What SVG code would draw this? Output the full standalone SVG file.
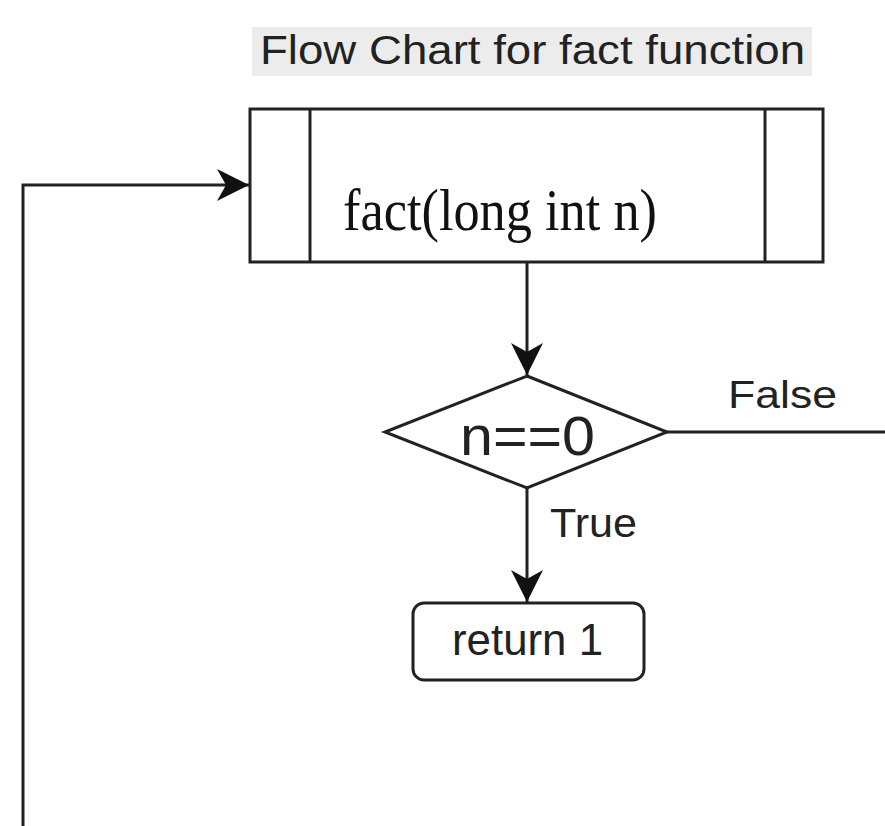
<svg xmlns="http://www.w3.org/2000/svg" width="885" height="826" viewBox="0 0 885 826">
  <style>
    .shape { fill: #ffffff; stroke: #222222; stroke-width: 3; }
    .edge { fill: none; stroke: #222222; stroke-width: 3; }
    .sans { font-family: "Liberation Sans", Arial, sans-serif; fill: #222222; }
    .serif { font-family: "Liberation Serif", "Times New Roman", serif; fill: #111111; }
  </style>
  <defs>
    <marker id="arrow" markerUnits="userSpaceOnUse" markerWidth="36" markerHeight="36" viewBox="-34 -18 36 36" refX="0" refY="0" orient="auto">
      <path d="M0,0 L-32,-16 L-23,0 L-32,16 Z" fill="#111111"/>
    </marker>
  </defs>
  <rect width="885" height="826" fill="#ffffff"/>

  <!-- title -->
  <g id="title">
    <rect x="252" y="27" width="560" height="49" fill="#ececec"/>
    <text class="sans" x="260" y="64" font-size="40" textLength="545" lengthAdjust="spacingAndGlyphs">Flow Chart for fact function</text>
  </g>

  <!-- connectors -->
  <g id="connectors">
    <path class="edge" d="M527,262 L527,375" marker-end="url(#arrow)"/>
    <path class="edge" d="M527,488 L527,602" marker-end="url(#arrow)"/>
    <path class="edge" d="M667,432 L885,432"/>
    <path class="edge" d="M23,826 L23,185 L249,185" marker-end="url(#arrow)"/>
    <text class="sans" x="728" y="408" font-size="38" textLength="109" lengthAdjust="spacingAndGlyphs">False</text>
    <text class="sans" x="550" y="537" font-size="40" textLength="87" lengthAdjust="spacingAndGlyphs">True</text>
  </g>

  <!-- predefined process: fact(long int n) -->
  <g id="fact">
    <rect class="shape" x="250" y="109" width="573" height="153"/>
    <line class="edge" x1="310" y1="109" x2="310" y2="262"/>
    <line class="edge" x1="765" y1="109" x2="765" y2="262"/>
    <text class="serif" x="343" y="230" font-size="60" textLength="314" lengthAdjust="spacingAndGlyphs">fact(long int n)</text>
  </g>

  <!-- decision -->
  <g id="check">
    <polygon class="shape" points="527,376 667,432 527,488 385,432"/>
    <text class="sans" x="460" y="455" font-size="56" textLength="135" lengthAdjust="spacingAndGlyphs">n==0</text>
  </g>

  <!-- terminal -->
  <g id="ret">
    <rect class="shape" x="413" y="603" width="231" height="77" rx="11" ry="11"/>
    <text class="sans" x="452" y="655" font-size="44" textLength="151" lengthAdjust="spacingAndGlyphs">return 1</text>
  </g>
</svg>
